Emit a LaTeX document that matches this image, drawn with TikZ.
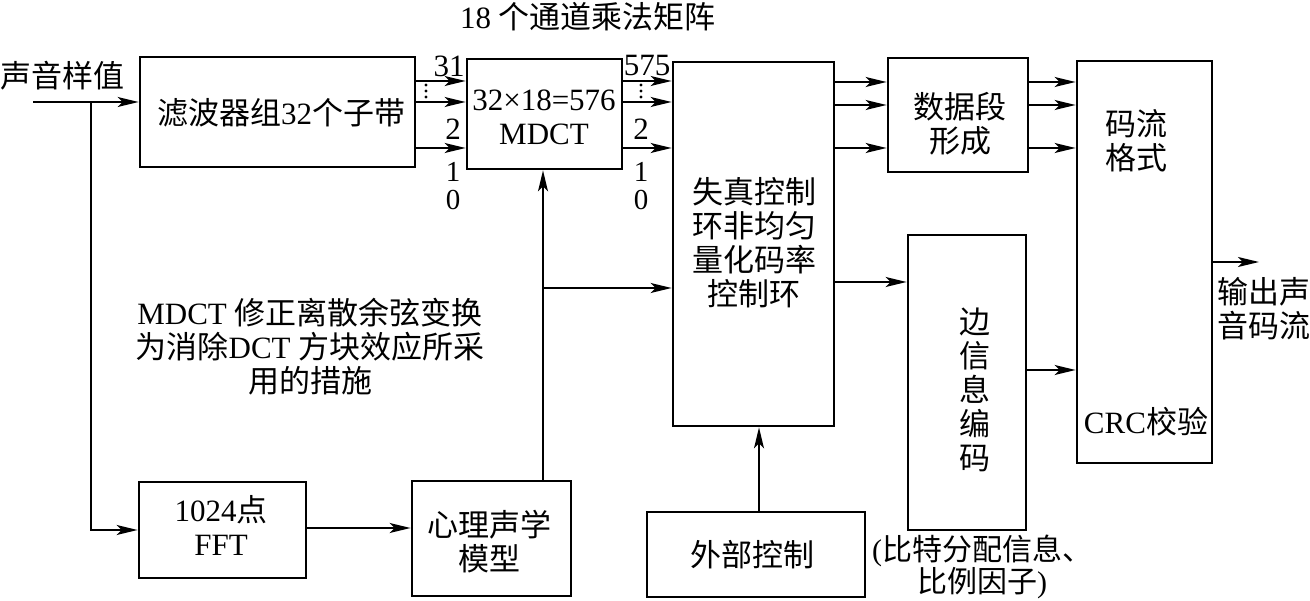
\documentclass[tikz,border=0pt]{standalone}
\usepackage{fontspec}
\setmainfont{Liberation Serif}
\newfontfamily\zhfont{Noto Sans CJK SC}
\newcommand{\zh}[1]{{\zhfont #1}}
\usetikzlibrary{arrows.meta,calc}
\begin{document}
\begin{tikzpicture}[x=1pt,y=-1pt,
  font=\fontsize{31}{34}\selectfont,
  box/.style={draw,line width=2.8pt,inner sep=0pt},
  lbl/.style={inner sep=0pt,align=center},
  arr/.style={line width=1.7pt,-{Stealth[length=21pt,width=10pt,inset=5pt]}},
  ln/.style={line width=1.7pt}]
\useasboundingbox (0,0) rectangle (1310,601);
% boxes
\node[box,minimum width=275pt,minimum height=110pt] (b1) at (277.5,112) {};
\node[box,minimum width=155pt,minimum height=110pt] (b2) at (544.5,114) {};
\node[box,minimum width=161pt,minimum height=364pt] (b3) at (753.5,244) {};
\node[box,minimum width=140pt,minimum height=114pt] (b4) at (958,115) {};
\node[box,minimum width=135pt,minimum height=402pt] (b5) at (1144.5,262) {};
\node[box,minimum width=118pt,minimum height=295pt] (b6) at (967,382.5) {};
\node[box,minimum width=218pt,minimum height=85pt] (b7) at (756,554.5) {};
\node[box,minimum width=167pt,minimum height=96pt] (b8) at (222.5,530) {};
\node[box,minimum width=159pt,minimum height=115pt] (b9) at (491.5,538.5) {};
% texts in boxes
\node[lbl] (t1) at (281,113) {\zh{滤波器组}32\zh{个子带}};
\node[lbl] (t2) at (544,117) {32×18=576\\MDCT};
\node[lbl] (t3) at (754,243) {\zh{失真控制}\\\zh{环非均匀}\\\zh{量化码率}\\\zh{控制环}};
\node[lbl] (t4) at (960,124) {\zh{数据段}\\\zh{形成}};
\node[lbl] (t5a) at (1136,141) {\zh{码流}\\\zh{格式}};
\node[lbl] (t5b) at (1146,422) {CRC\zh{校验}};
\node[lbl,text width=40pt] (t6) at (975,390) {\zh{边}\\\zh{信}\\\zh{息}\\\zh{编}\\\zh{码}};
\node[lbl] (t7) at (752,555) {\zh{外部控制}};
\node[lbl] (t8) at (221,525) {1024\zh{点}\\FFT};
\node[lbl] (t9) at (489,542) {\zh{心理声学}\\\zh{模型}};
% free texts
\node[lbl] (title) at (588,17) {18 \zh{个通道乘法矩阵}};
\node[lbl,anchor=west] (src) at (0,76) {\zh{声音样值}};
\node[lbl] (note) at (310,347) {MDCT \zh{修正离散余弦变换}\\\zh{为消除}DCT \zh{方块效应所采}\\\zh{用的措施}};
\node[lbl,font=\fontsize{30}{32}\selectfont] (side) at (982,567) {(\zh{比特分配信息、}\\\zh{比例因子})};
\node[lbl] (outl) at (1264,309) {\zh{输出声}\\\zh{音码流}};
% channel labels
\node[lbl] (n31) at (449,66) {31};
\node[lbl] (n2a) at (453,129) {2};
\node[lbl,font=\fontsize{29}{28}\selectfont] (n10a) at (453,186) {1\\0};
\node[lbl] (n575) at (647,66) {575};
\node[lbl] (n2b) at (641,129) {2};
\node[lbl,font=\fontsize{29}{28}\selectfont] (n10b) at (641,186) {1\\0};
\foreach \y in {85,91,97}{\fill (426,\y) circle (1.7pt); \fill (641,\y) circle (1.7pt);}
% row coordinates
\coordinate (r1) at (0,81);
\coordinate (r2) at (0,102);
\coordinate (r3) at (0,148);
\coordinate (q1) at (0,82);
\coordinate (q2) at (0,105);
\coordinate (q3) at (0,148);
% connectors
\foreach \r in {r1,r2,r3}{
  \draw[arr] (b1.east |- \r) -- (b2.west |- \r);
  \draw[arr] (b2.east |- \r) -- (b3.west |- \r);}
\foreach \r in {q1,q2,q3}{
  \draw[arr] (b3.east |- \r) -- (b4.west |- \r);
  \draw[arr] (b4.east |- \r) -- (b5.west |- \r);}
\coordinate (in) at (33,102);
\coordinate (br) at (91,102);
\draw[arr] (in) -- (b1.west |- in);
\draw[arr] (br) |- (b8.west);
\coordinate (f) at (0,528);
\draw[arr] (b8.east |- f) -- (b9.west |- f);
\coordinate (px) at (543,0);
\draw[arr] (px |- b9.north) -- (px |- b2.south);
\coordinate (j) at (543,288);
\draw[arr] (j) -- (j -| b3.west);
\coordinate (s1) at (0,282);
\draw[arr] (b3.east |- s1) -- (b6.west |- s1);
\coordinate (s2) at (0,370);
\draw[arr] (b6.east |- s2) -- (b5.west |- s2);
\coordinate (out) at (1259,262);
\draw[arr] (b5.east) -- (out);
\coordinate (ex) at (759,0);
\draw[arr] (ex |- b7.north) -- (ex |- b3.south);
\end{tikzpicture}
\end{document}
